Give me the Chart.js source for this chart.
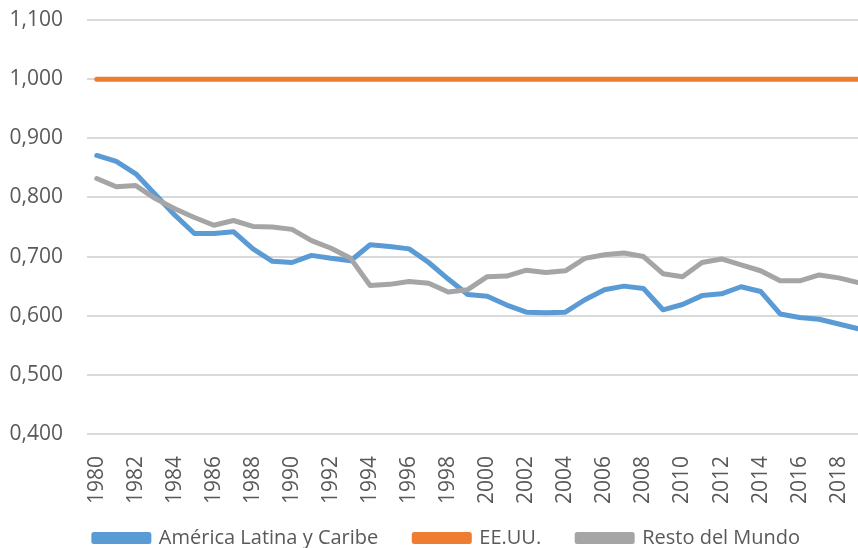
<!DOCTYPE html>
<html>
<head>
<meta charset="utf-8">
<script src="https://cdn.jsdelivr.net/npm/chart.js@4"></script>
<style>
  html, body { margin: 0; padding: 0; background: #fff; overflow: hidden; }
  #wrap { width: 858px; height: 548px; overflow: hidden; }
</style>
</head>
<body>
<div id="wrap"><canvas id="chart" width="868" height="548"></canvas></div>
<script>
const years = [];
for (let y = 1980; y <= 2019; y++) years.push(String(y));

const americaLatina = [
  0.871, 0.861, 0.840, 0.805, 0.770, 0.739, 0.739, 0.742, 0.713, 0.692,
  0.690, 0.702, 0.697, 0.693, 0.720, 0.717, 0.713, 0.690, 0.662, 0.636,
  0.633, 0.618, 0.606, 0.605, 0.606, 0.627, 0.644, 0.650, 0.646, 0.610,
  0.619, 0.634, 0.637, 0.649, 0.641, 0.603, 0.597, 0.594, 0.586, 0.578
];

const eeuu = [
  1, 1, 1, 1, 1, 1, 1, 1, 1, 1,
  1, 1, 1, 1, 1, 1, 1, 1, 1, 1,
  1, 1, 1, 1, 1, 1, 1, 1, 1, 1,
  1, 1, 1, 1, 1, 1, 1, 1, 1, 1
];

const restoMundo = [
  0.832, 0.818, 0.820, 0.798, 0.781, 0.766, 0.753, 0.761, 0.751, 0.750,
  0.746, 0.727, 0.714, 0.697, 0.651, 0.653, 0.658, 0.655, 0.640, 0.644,
  0.666, 0.667, 0.677, 0.673, 0.676, 0.697, 0.703, 0.706, 0.700, 0.671,
  0.666, 0.690, 0.696, 0.686, 0.676, 0.659, 0.659, 0.669, 0.664, 0.656
];

const FONT = "'Open Sans', sans-serif";
const TEXT = '#595959';

// move the legend a little right and up, like the original
const shiftLegend = {
  id: 'shiftLegend',
  afterLayout(chart) {
    const lg = chart.legend;
    if (!lg) return;
    lg.left += 13;
    lg.right += 13;
    lg.top -= 12;
    lg.bottom -= 12;
  }
};

new Chart(document.getElementById('chart'), {
  type: 'line',
  data: {
    labels: years,
    datasets: [
      {
        label: 'América Latina y Caribe',
        data: americaLatina,
        borderColor: '#5B9BD5',
        backgroundColor: '#5B9BD5',
        order: 3
      },
      {
        label: 'EE.UU.',
        data: eeuu,
        borderColor: '#ED7D31',
        backgroundColor: '#ED7D31',
        order: 2
      },
      {
        label: 'Resto del Mundo',
        data: restoMundo,
        borderColor: '#A5A5A5',
        backgroundColor: '#A5A5A5',
        order: 1
      }
    ]
  },
  plugins: [shiftLegend],
  options: {
    responsive: false,
    animation: false,
    layout: { padding: { top: 20, left: 0, right: 0, bottom: -22 } },
    elements: {
      line: { borderWidth: 5, tension: 0, borderCapStyle: 'round', borderJoinStyle: 'round' },
      point: { radius: 0 }
    },
    plugins: {
      tooltip: { enabled: false },
      legend: {
        position: 'bottom',
        labels: {
          boxWidth: 55,
          boxHeight: 7,
          padding: 36,
          color: TEXT,
          font: { family: FONT, size: 20 },
          sort: (a, b) => a.datasetIndex - b.datasetIndex
        }
      }
    },
    scales: {
      x: {
        offset: true,
        grid: { display: false },
        border: { display: false },
        afterFit: (scale) => {
          scale.paddingLeft = 0;
          scale.paddingRight = 0;
          scale.height = 70;
        },
        ticks: {
          autoSkip: false,
          maxRotation: 90,
          minRotation: 90,
          padding: 14,
          color: TEXT,
          font: { family: FONT, size: 21 },
          callback: function(value, index) {
            return index % 2 === 0 ? this.getLabelForValue(value) : '';
          }
        }
      },
      y: {
        min: 0.4,
        max: 1.1,
        border: { display: false },
        grid: { color: '#D9D9D9', lineWidth: 2, drawTicks: false },
        afterFit: (scale) => {
          scale.paddingTop = 0;
          scale.paddingBottom = 0;
          scale.width = 87;
        },
        ticks: {
          stepSize: 0.1,
          padding: 24,
          color: TEXT,
          font: { family: FONT, size: 21 },
          callback: (v) => v.toFixed(3).replace('.', ',')
        }
      }
    }
  }
});
</script>
</body>
</html>
